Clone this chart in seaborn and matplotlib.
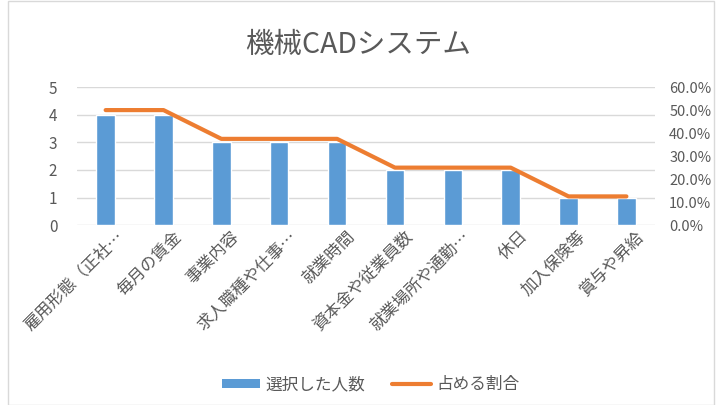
import matplotlib
matplotlib.use("Agg")
import matplotlib.pyplot as plt
import matplotlib.transforms as mtransforms
import seaborn as sns
import numpy as np
from matplotlib.patches import Patch, Rectangle
from matplotlib.lines import Line2D
from matplotlib.ticker import FuncFormatter

sns.set_theme(style="white")
plt.rcParams['font.family'] = ['Noto Sans CJK JP', 'DejaVu Sans']

categories = ["雇用形態（正社…", "毎月の賃金", "事業内容", "求人職種や仕事…", "就業時間",
              "資本金や従業員数", "就業場所や通勤…", "休日", "加入保険等", "賞与や昇給"]
counts = [4, 4, 3, 3, 3, 2, 2, 2, 1, 1]
ratios = [0.5, 0.5, 0.375, 0.375, 0.375, 0.25, 0.25, 0.25, 0.125, 0.125]
left_ticks = [0, 1, 2, 3, 4, 5]
right_ticks = [0, 0.1, 0.2, 0.3, 0.4, 0.5, 0.6]

BLUE = "#5B9BD5"
ORANGE = "#ED7D31"
GRID = "#D9D9D9"
TXT = "#595959"

fig = plt.figure(figsize=(7.17, 4.05), dpi=100)
ax = fig.add_axes([0.107, 0.444, 0.807, 0.341])

sns.barplot(x=categories, y=counts, color=BLUE, width=0.32, ax=ax, saturation=1)
ax.set_ylim(0, 5)
ax.set_xlim(-0.5, len(categories) - 0.5)
ax.set_yticks(left_ticks)
ax.yaxis.grid(True, color=GRID, linewidth=1)
ax.set_axisbelow(True)
for s in ax.spines.values():
    s.set_visible(False)
ax.tick_params(axis='y', length=0, labelsize=11, labelcolor=TXT, pad=14)
ax.tick_params(axis='x', length=0, labelsize=12, labelcolor=TXT, pad=2)
offset = mtransforms.ScaledTranslation(0.09, 0, fig.dpi_scale_trans)
for lab in ax.get_xticklabels():
    lab.set_rotation(45)
    lab.set_ha('right')
    lab.set_rotation_mode('anchor')
    lab.set_transform(lab.get_transform() + offset)
ax.set_xlabel("")
ax.set_ylabel("")

ax2 = ax.twinx()
sns.lineplot(x=categories, y=ratios, color=ORANGE, linewidth=3, ax=ax2, sort=False)
ax2.set_ylim(0, 0.6)
ax2.set_yticks(right_ticks)
ax2.yaxis.set_major_formatter(FuncFormatter(lambda v, p: f"{v*100:.1f}%"))
ax2.tick_params(axis='y', length=0, labelsize=10.5, labelcolor=TXT, pad=10)
for s in ax2.spines.values():
    s.set_visible(False)
ax2.set_ylabel("")
ax2.grid(False)
ax.set_xlim(-0.5, len(categories) - 0.5)

fig.text(0.5, 0.888, "機械CADシステム", ha='center', va='center', fontsize=20.5, color=TXT)

handles = [Patch(facecolor=BLUE, edgecolor='none'),
           Line2D([0], [0], color=ORANGE, linewidth=3)]
fig.legend(handles, ["選択した人数", "占める割合"], loc='center', bbox_to_anchor=(0.517, 0.05),
           ncol=2, frameon=False, fontsize=12, labelcolor=TXT, handlelength=2.3,
           handleheight=0.5, columnspacing=1.6, handletextpad=0.35)

fig.add_artist(Rectangle((0.011, 0.0), 0.985, 0.998, transform=fig.transFigure,
                         fill=False, edgecolor=GRID, linewidth=1))

fig.savefig("out.png", dpi=100, facecolor='white')
